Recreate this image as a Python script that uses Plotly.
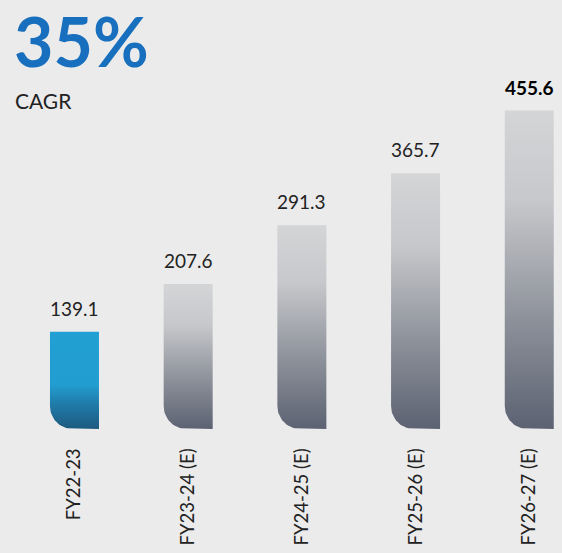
import numpy as np
import plotly.graph_objects as go

categories = ["FY22-23", "FY23-24 (E)", "FY24-25 (E)", "FY25-26 (E)", "FY26-27 (E)"]
values = [139.1, 207.6, 291.3, 365.7, 455.6]
value_labels = ["139.1", "207.6", "291.3", "365.7", "455.6"]
headline = "35%"
subtitle = "CAGR"

W, H = 562, 553
ML, MR, MT, MB = 0, 0, 0, 124
plot_w = W - ML - MR
plot_h = H - MT - MB
x_range = [-0.655, 4.288]
y_range = [0, 613.7]
px_per_x = plot_w / (x_range[1] - x_range[0])
px_per_y = plot_h / (y_range[1] - y_range[0])

bar_half = 24.5 / px_per_x
radius_px = 23
rx = radius_px / px_per_x
ry = radius_px / px_per_y

BG = "#ebebeb"
blue_scale = [[0, "#1d5a7f"], [0.25, "#1f7aa8"], [0.45, "#229dcf"], [1, "#22a0d3"]]
grey_scale = [[0, "#5c6272"], [0.35, "#8e929b"], [0.72, "#c7c8cb"], [1, "#d4d5d7"]]

fig = go.Figure()
for i, (cat, v) in enumerate(zip(categories, values)):
    x0, x1 = i - bar_half, i + bar_half
    theta = np.linspace(np.pi / 2 * 3, np.pi, 20)
    arc_x = (x0 + rx) + rx * np.cos(theta)
    arc_y = ry + ry * np.sin(theta)
    xs = [x0, x1, x1] + list(arc_x) + [x0, x0]
    ys = [v, v, 0] + list(arc_y) + [ry, v]
    fig.add_trace(go.Scatter(
        x=xs, y=ys, mode="lines", fill="toself",
        line=dict(width=0, color="rgba(0,0,0,0)"),
        fillgradient=dict(type="vertical",
                          colorscale=blue_scale if i == 0 else grey_scale),
        hoverinfo="skip", showlegend=False,
    ))
    last = i == len(values) - 1
    fig.add_annotation(
        x=i, y=v, xref="x", yref="y", text=("<b>%s</b>" % value_labels[i]) if last else value_labels[i],
        showarrow=False, yanchor="bottom", yshift=10,
        font=dict(size=19, color="#000000" if last else "#222222", family="Lato"),
    )

fig.add_annotation(
    x=12 / W, y=1 - 41 / plot_h, xref="paper", yref="paper", xanchor="left", yanchor="middle",
    text="<b>%s</b>" % headline, showarrow=False,
    font=dict(size=68, color="#176fbe", family="Lato"),
)
fig.add_annotation(
    x=13 / W, y=1 - 100.5 / plot_h, xref="paper", yref="paper", xanchor="left", yanchor="middle",
    text=subtitle, showarrow=False,
    font=dict(size=21, color="#222222", family="Lato"),
)

fig.update_layout(
    width=W, height=H,
    margin=dict(l=ML, r=MR, t=MT, b=MB),
    paper_bgcolor=BG, plot_bgcolor=BG,
    xaxis=dict(range=x_range, tickvals=list(range(len(categories))), ticktext=categories,
               tickangle=-90, showgrid=False, zeroline=False, showline=False,
               ticks="outside", ticklen=11, tickcolor="rgba(0,0,0,0)",
               tickfont=dict(size=18.5, color="#222222", family="Lato"), fixedrange=True),
    yaxis=dict(range=y_range, visible=False, fixedrange=True),
)

fig.write_html("out.html", config={"displayModeBar": False},
               post_script="document.body.style.margin='0';document.body.style.overflow='hidden';")
